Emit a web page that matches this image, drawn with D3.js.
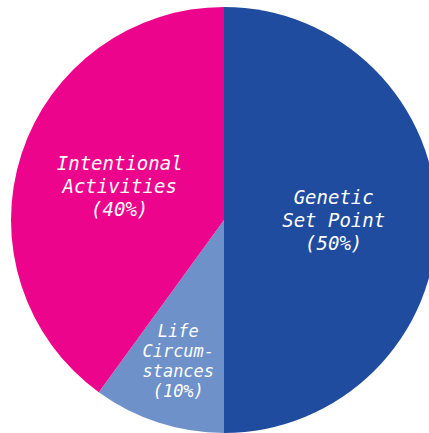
<!DOCTYPE html>
<html>
<head>
<meta charset="utf-8">
<script src="https://cdn.jsdelivr.net/npm/d3@7"></script>
<style>
  html, body { margin: 0; padding: 0; background: #fff; }
  svg { display: block; }
  .slice-label { font-family: "DejaVu Sans Mono", monospace; font-style: italic; fill: #fff; }
</style>
</head>
<body>
<svg id="chart" width="429" height="433"></svg>
<script>
// Share of happiness by source
const categories = ["Genetic Set Point", "Life Circumstances", "Intentional Activities"];
const shares = [50, 10, 40];
const labelLines = [
  ["Genetic", "Set Point", "(50%)"],
  ["Life", "Circum-", "stances", "(10%)"],
  ["Intentional", "Activities", "(40%)"]
];
const colors = ["#1f4c9e", "#6e91c9", "#ec048c"];

const svg = d3.select("#chart");
const cx = 224, cy = 220, radius = 213;

const data = categories.map((c, i) => ({ category: c, value: shares[i], lines: labelLines[i], color: colors[i] }));

const pie = d3.pie().sort(null).value(d => d.value);
const arc = d3.arc().innerRadius(0).outerRadius(radius);
const arcs = pie(data);

const g = svg.append("g").attr("transform", `translate(${cx},${cy})`);

g.selectAll("path.slice")
  .data(arcs)
  .join("path")
  .attr("class", "slice")
  .attr("d", arc)
  .attr("fill", d => d.data.color);

// Larger wedges get labels nearer the middle; the narrow wedge pushes its label outward
const labelRadius = d => (d.endAngle - d.startAngle) < Math.PI * 0.4 ? radius * 0.695 : radius * 0.515;

const labels = g.selectAll("text.slice-label")
  .data(arcs)
  .join("text")
  .attr("class", "slice-label")
  .attr("text-anchor", "middle")
  .attr("font-size", d => d.data.lines.length > 3 ? 17 : 19)
  .attr("transform", d => {
    const r = labelRadius(d);
    const [x, y] = d3.arc().innerRadius(r).outerRadius(r).centroid(d);
    return `translate(${x},${y})`;
  });

labels.each(function(d) {
  const n = d.data.lines.length;
  const lh = n > 3 ? 20 : 23;
  const first = -(n - 1) / 2 * lh + 6.5;
  d3.select(this).selectAll("tspan")
    .data(d.data.lines)
    .join("tspan")
    .attr("x", 0)
    .attr("y", (t, i) => first + i * lh)
    .text(t => t);
});
</script>
</body>
</html>
